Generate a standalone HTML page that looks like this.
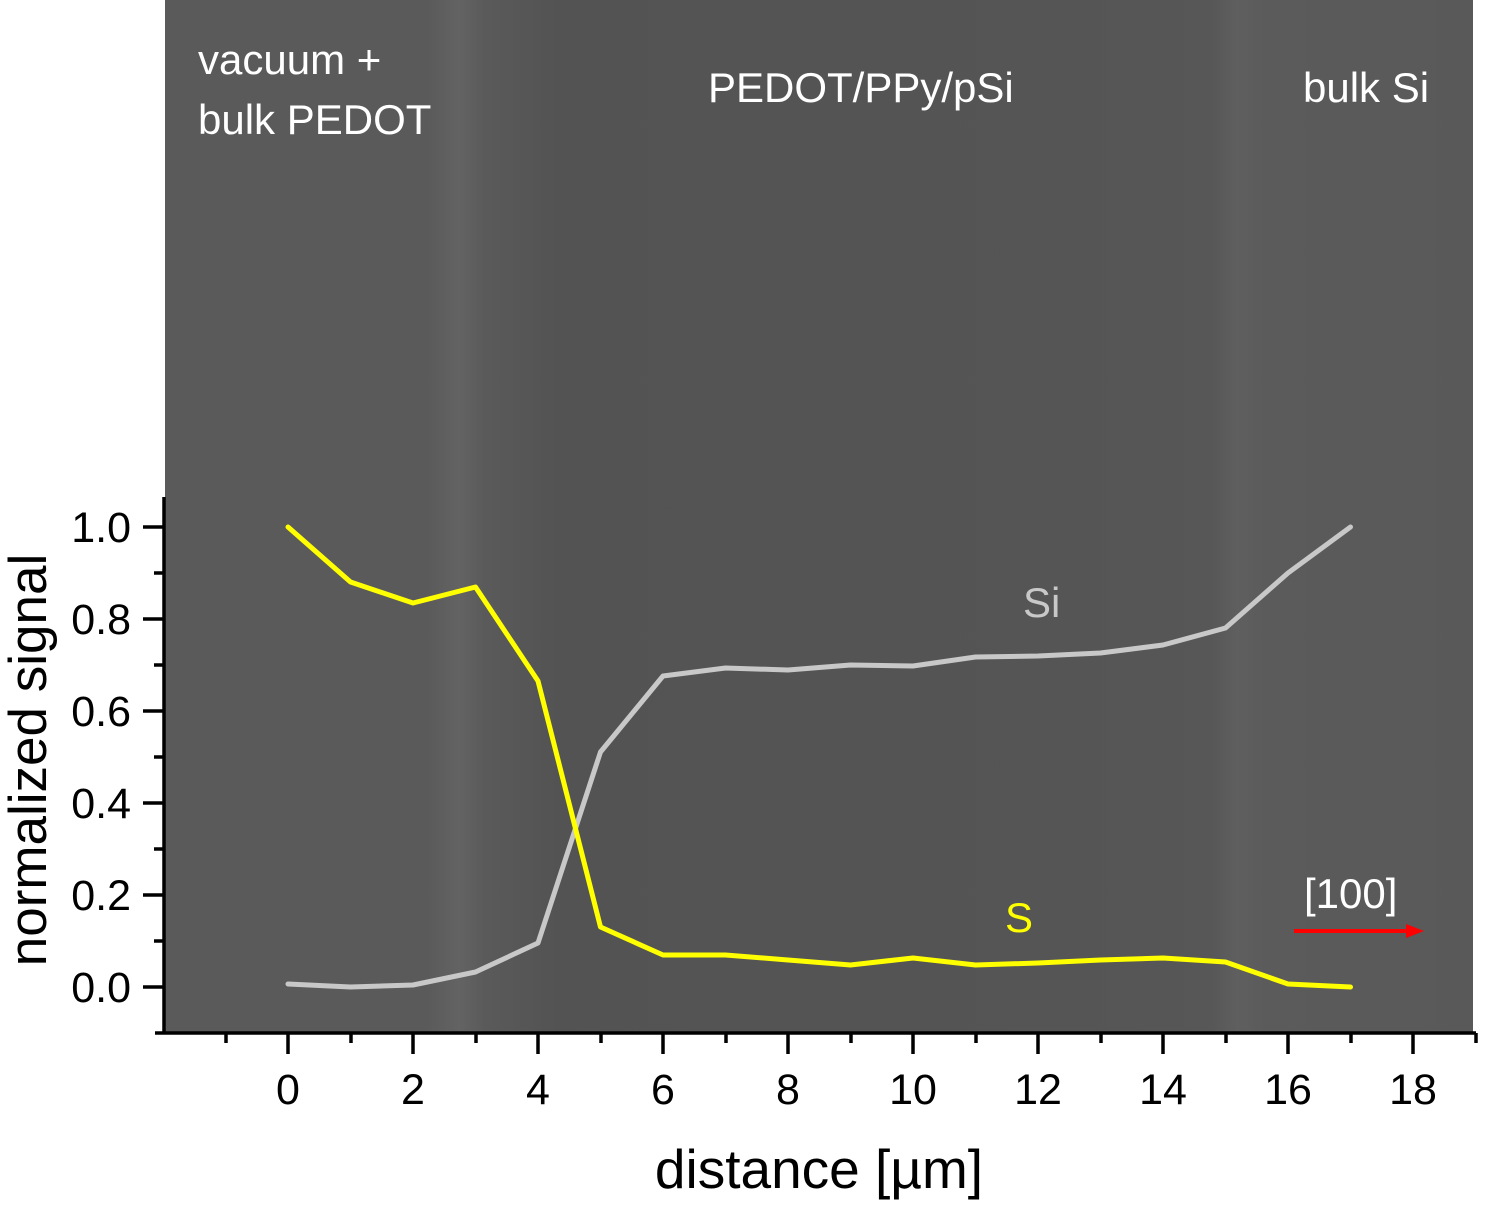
<!DOCTYPE html>
<html><head><style>
html,body{margin:0;padding:0;background:#fff;}
svg{display:block;}
text{font-family:"Liberation Sans",Arial,sans-serif;}
</style></head><body>
<svg width="1487" height="1232" viewBox="0 0 1487 1232" xmlns="http://www.w3.org/2000/svg">
<defs>
<linearGradient id="bg" x1="0" x2="1" y1="0" y2="0">
<stop offset="0" stop-color="#5a5a5a"/>
<stop offset="0.2" stop-color="#5a5a5a"/>
<stop offset="0.225" stop-color="#636363"/>
<stop offset="0.245" stop-color="#5a5a5a"/>
<stop offset="0.3" stop-color="#535353"/>
<stop offset="0.7" stop-color="#555"/>
<stop offset="0.8" stop-color="#575757"/>
<stop offset="0.82" stop-color="#5f5f5f"/>
<stop offset="0.84" stop-color="#5b5b5b"/>
<stop offset="1" stop-color="#595959"/>
</linearGradient>
</defs>
<rect x="165" y="0" width="1308" height="1032" fill="url(#bg)"/>
<g stroke="#000" stroke-width="3.5" fill="none">
<line x1="164" y1="497" x2="164" y2="1033"/>
<line x1="155" y1="1033" x2="1476" y2="1033"/>
<line x1="143" y1="527" x2="164" y2="527"/>
<line x1="143" y1="619" x2="164" y2="619"/>
<line x1="143" y1="711" x2="164" y2="711"/>
<line x1="143" y1="803" x2="164" y2="803"/>
<line x1="143" y1="895" x2="164" y2="895"/>
<line x1="143" y1="987" x2="164" y2="987"/>
<line x1="154" y1="573" x2="164" y2="573"/>
<line x1="154" y1="665" x2="164" y2="665"/>
<line x1="154" y1="757" x2="164" y2="757"/>
<line x1="154" y1="849" x2="164" y2="849"/>
<line x1="154" y1="941" x2="164" y2="941"/>
<line x1="288" y1="1033" x2="288" y2="1054"/>
<line x1="413" y1="1033" x2="413" y2="1054"/>
<line x1="538" y1="1033" x2="538" y2="1054"/>
<line x1="663" y1="1033" x2="663" y2="1054"/>
<line x1="788" y1="1033" x2="788" y2="1054"/>
<line x1="913" y1="1033" x2="913" y2="1054"/>
<line x1="1038" y1="1033" x2="1038" y2="1054"/>
<line x1="1163" y1="1033" x2="1163" y2="1054"/>
<line x1="1288" y1="1033" x2="1288" y2="1054"/>
<line x1="1413" y1="1033" x2="1413" y2="1054"/>
<line x1="226" y1="1033" x2="226" y2="1043"/>
<line x1="351" y1="1033" x2="351" y2="1043"/>
<line x1="476" y1="1033" x2="476" y2="1043"/>
<line x1="601" y1="1033" x2="601" y2="1043"/>
<line x1="726" y1="1033" x2="726" y2="1043"/>
<line x1="851" y1="1033" x2="851" y2="1043"/>
<line x1="976" y1="1033" x2="976" y2="1043"/>
<line x1="1101" y1="1033" x2="1101" y2="1043"/>
<line x1="1226" y1="1033" x2="1226" y2="1043"/>
<line x1="1351" y1="1033" x2="1351" y2="1043"/>
<line x1="1476" y1="1033" x2="1476" y2="1043"/>
</g>
<g font-size="43" fill="#000" text-anchor="end">
<text x="131" y="542">1.0</text>
<text x="131" y="634">0.8</text>
<text x="131" y="726">0.6</text>
<text x="131" y="818">0.4</text>
<text x="131" y="910">0.2</text>
<text x="131" y="1002">0.0</text>
</g>
<g font-size="43" fill="#000" text-anchor="middle">
<text x="288" y="1104">0</text><text x="413" y="1104">2</text><text x="538" y="1104">4</text>
<text x="663" y="1104">6</text><text x="788" y="1104">8</text><text x="913" y="1104">10</text>
<text x="1038" y="1104">12</text><text x="1163" y="1104">14</text><text x="1288" y="1104">16</text>
<text x="1413" y="1104">18</text>
</g>
<text x="819" y="1188" font-size="55" text-anchor="middle">distance [µm]</text>
<text transform="translate(46,760) rotate(-90)" font-size="53" text-anchor="middle">normalized signal</text>
<polyline fill="none" stroke="#c8c8c8" stroke-width="5" stroke-linejoin="round" stroke-linecap="round"
points="288,984 350.5,987 413,985 475.5,972 538,943 600.5,752 663,676 725.5,668 788,670 850.5,665 913,666 975.5,657 1038,656 1100.5,653 1163,645 1225.5,628 1288,573 1350.5,527"/>
<polyline fill="none" stroke="#ffff00" stroke-width="5" stroke-linejoin="round" stroke-linecap="round"
points="288,527 350.5,582 413,603 475.5,587 538,681 600.5,927 663,955 725.5,955 788,960 850.5,965 913,958 975.5,965 1038,963 1100.5,960 1163,958 1225.5,962 1288,984 1350.5,987"/>
<g font-size="42" fill="#fff">
<text x="198" y="74">vacuum +</text>
<text x="198" y="134">bulk PEDOT</text>
<text x="708" y="102">PEDOT/PPy/pSi</text>
<text x="1303" y="102">bulk Si</text>
<text x="1304" y="908">[100]</text>
</g>
<text x="1023" y="617" font-size="42" fill="#c8c8c8">Si</text>
<text x="1005" y="932" font-size="42" fill="#ffff00">S</text>
<line x1="1294" y1="931" x2="1410" y2="931" stroke="#ff0000" stroke-width="4"/>
<polygon points="1424,931 1406,924 1406,938" fill="#ff0000"/>
</svg>
</body></html>
